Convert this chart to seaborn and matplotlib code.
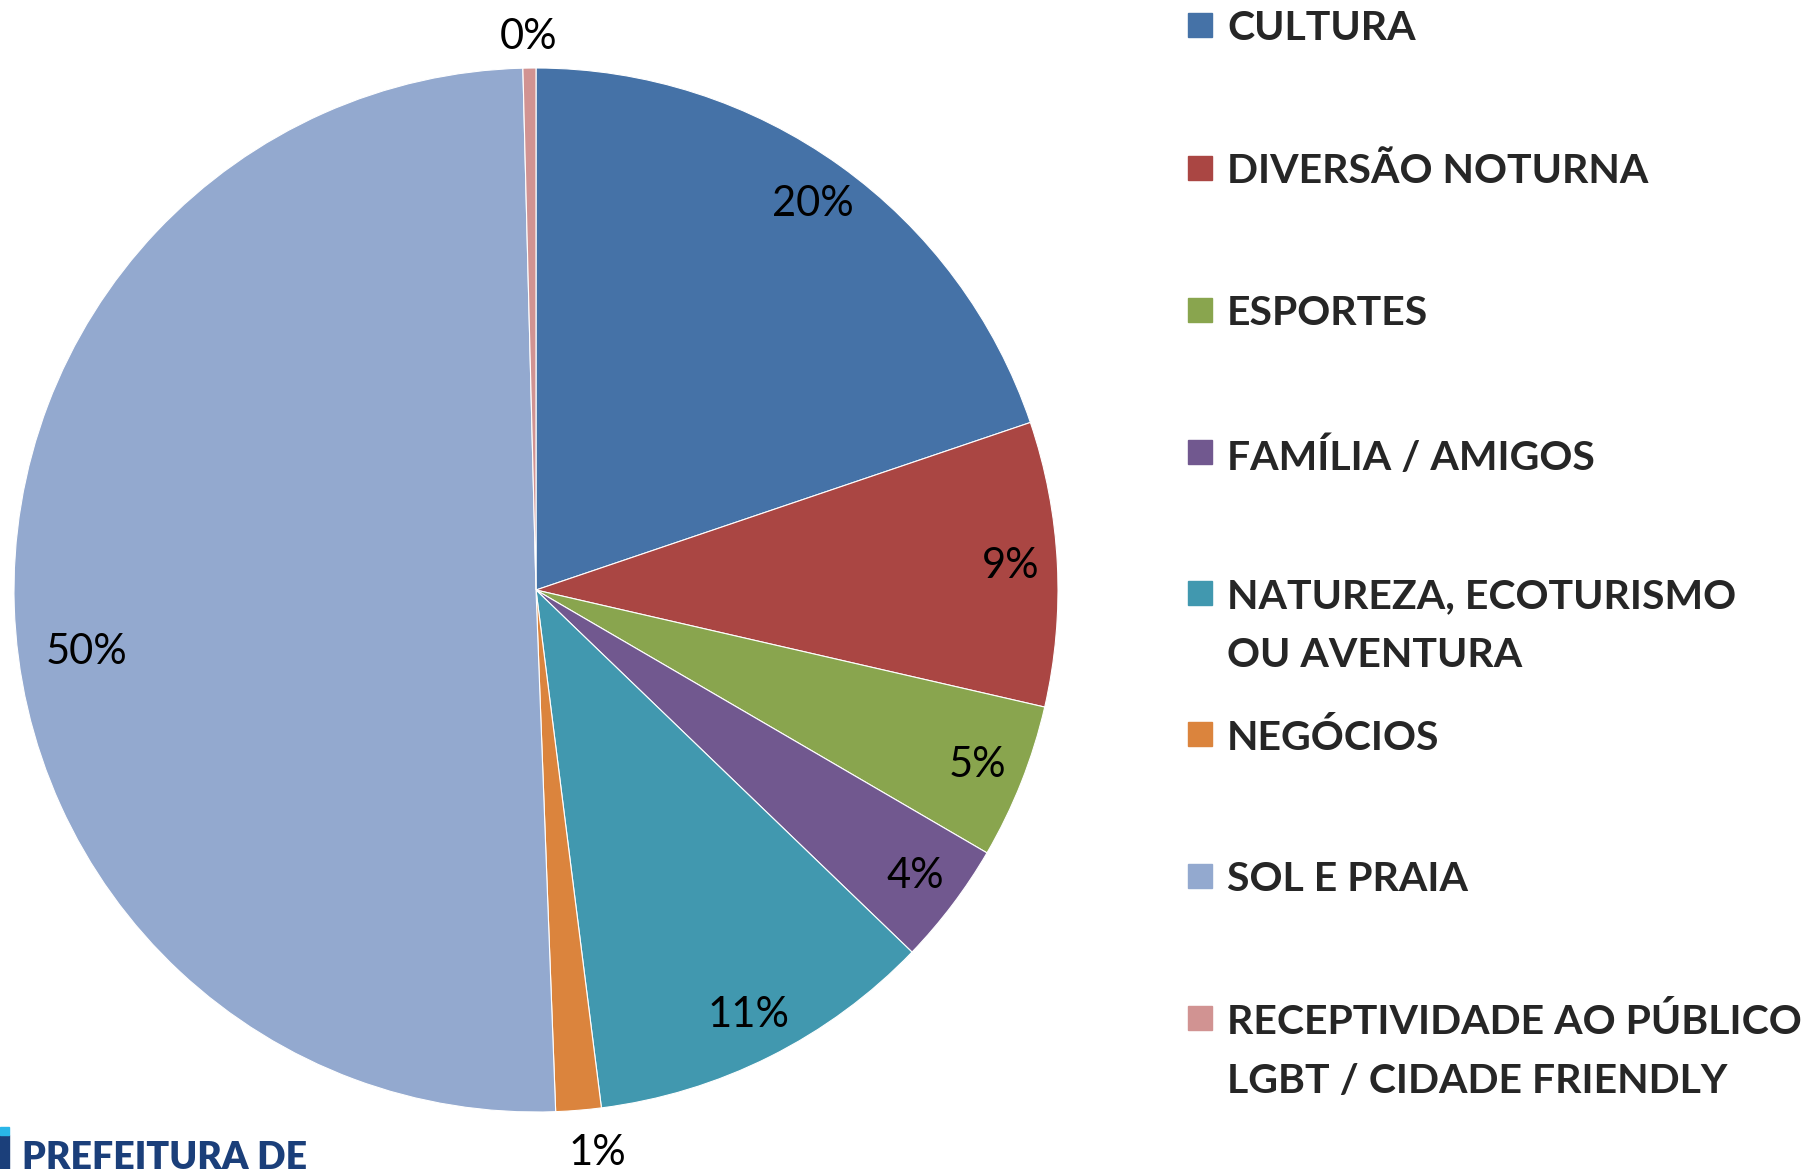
import matplotlib
matplotlib.use("Agg")
import matplotlib.pyplot as plt
import seaborn as sns
import numpy as np
from matplotlib.patches import Rectangle

sns.set_theme(style="white")
plt.rcParams['font.family'] = ['Lato', 'DejaVu Sans']

# data
categories = ['CULTURA', 'DIVERSÃO NOTURNA', 'ESPORTES', 'FAMÍLIA / AMIGOS',
              'NATUREZA, ECOTURISMO\nOU AVENTURA', 'NEGÓCIOS', 'SOL E PRAIA',
              'RECEPTIVIDADE AO PÚBLICO\nLGBT / CIDADE FRIENDLY']
shares = [19.8, 8.8, 4.8, 3.8, 10.8, 1.4, 50.2, 0.4]
colors = ['#4572A7', '#AA4643', '#89A54E', '#71588F',
          '#4198AF', '#DB843D', '#93A9CF', '#D19392']

W, H = 1802, 1169
fig = plt.figure(figsize=(W / 100, H / 100), dpi=100)

# pie axes: centre (536, 590), radius 522 px
R = 522
ax = fig.add_axes([(536 - R) / W, (H - 590 - R) / H, 2 * R / W, 2 * R / H])
wedges, texts, autotexts = ax.pie(
    shares, colors=colors, startangle=90, counterclock=False,
    autopct='%.0f%%', pctdistance=0.91,
    wedgeprops=dict(edgecolor='white', linewidth=0.8),
    textprops=dict(fontsize=30, color='black'))
ax.set_xlim(-1, 1)
ax.set_ylim(-1, 1)
ax.set_aspect('equal')
ax.axis('off')

# tiny slices get their labels outside; the big one sits a bit lower (best fit)
for t, s in zip(autotexts, shares):
    x, y = t.get_position()
    if s < 2:
        a = np.arctan2(y, x)
        r = 1.06
        if s > 1:
            a += np.radians(1.5)
            r = 1.085
        t.set_position((r * np.cos(a), r * np.sin(a)))
    elif s > 40:
        a = np.arctan2(y, x) + np.radians(6)
        t.set_position((0.87 * np.cos(a), 0.87 * np.sin(a)))

# legend, drawn as in the original (marker aligned with first line)
rows_y = [25, 168, 310, 452, 593, 734, 876, 1018]
for lab, col, yy in zip(categories, colors, rows_y):
    fig.patches.append(Rectangle((1188 / W, 1 - (yy + 12) / H), 24 / W, 24 / H,
                                 transform=fig.transFigure, color=col))
    fig.text(1227 / W, 1 - (yy - 15) / H, lab, fontsize=29.5, fontweight='bold',
             va='top', ha='left', linespacing=1.72)

# cropped logo at the bottom left
fig.patches.append(Rectangle((0, 0), 9 / W, 34 / H, transform=fig.transFigure,
                             color='#1B3F7A'))
fig.patches.append(Rectangle((0, 34 / H), 9 / W, 8 / H, transform=fig.transFigure,
                             color='#29B6E8'))
fig.text(22 / W, -6 / H, 'PREFEITURA DE', fontsize=27, fontweight='heavy',
         color='#1B3F7A', va='bottom', ha='left')

fig.savefig('out.png', dpi=100, facecolor='white')
